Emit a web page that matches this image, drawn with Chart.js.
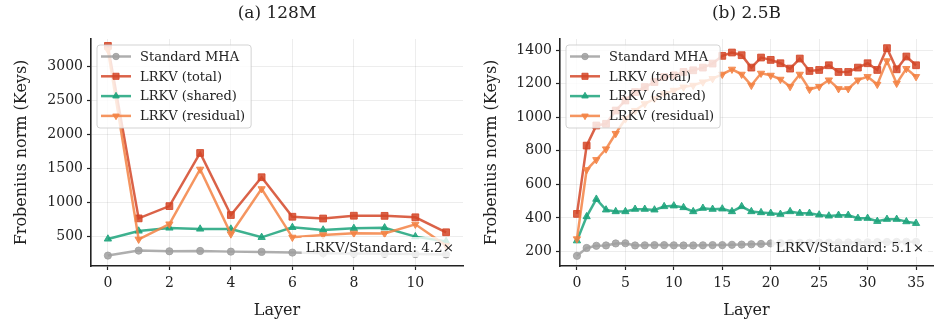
<!DOCTYPE html>
<html>
<head>
<meta charset="utf-8">
<script src="https://cdn.jsdelivr.net/npm/chart.js@4.4.1/dist/chart.umd.min.js"></script>
<style>
  html, body { margin: 0; padding: 0; background: #fff; }
  body { width: 947px; height: 332px; position: relative; overflow: hidden; }
  .panel { position: absolute; top: 0; height: 332px; }
</style>
</head>
<body>
<div class="panel" style="left:0;width:470px"><canvas id="c128"></canvas></div>
<div class="panel" style="left:475px;width:472px"><canvas id="c25"></canvas></div>
<script>
// (a) 128M
const layersA = [0, 1, 2, 3, 4, 5, 6, 7, 8, 9, 10, 11];
const stdA   = [222, 295, 285, 290, 280, 276, 266, 257, 252, 248, 244, 238];
const totA   = [3300, 768, 948, 1728, 817, 1372, 792, 766, 807, 805, 784, 564];
const shA    = [466, 583, 627, 612, 612, 490, 636, 598, 622, 630, 500, 430];
const resA   = [3240, 461, 685, 1489, 539, 1202, 490, 525, 550, 545, 681, 370];
const xTicksA = [0, 2, 4, 6, 8, 10];
const yTicksA = [500, 1000, 1500, 2000, 2500, 3000];

// (b) 2.5B
const layersB = [0, 1, 2, 3, 4, 5, 6, 7, 8, 9, 10, 11, 12, 13, 14, 15, 16, 17,
                 18, 19, 20, 21, 22, 23, 24, 25, 26, 27, 28, 29, 30, 31, 32, 33, 34, 35];
const stdB = [174, 221, 234, 236, 248, 249, 236, 237, 238, 238, 237, 236, 236, 237, 238, 238, 240, 241,
              243, 245, 248, 250, 251, 252, 252, 253, 253, 254, 254, 255, 255, 256, 257, 257, 258, 258];
const totB = [424, 831, 951, 961, 1040, 1100, 1150, 1180, 1210, 1240, 1250, 1270, 1280, 1296, 1320, 1366, 1386, 1370,
              1296, 1356, 1342, 1322, 1290, 1350, 1276, 1282, 1310, 1270, 1270, 1296, 1322, 1282, 1412, 1286, 1362, 1310];
const shB  = [264, 408, 512, 448, 438, 438, 452, 452, 448, 468, 472, 462, 438, 458, 452, 454, 438, 468,
              438, 432, 428, 422, 438, 428, 428, 418, 412, 416, 416, 398, 398, 380, 392, 392, 378, 368];
const resB = [275, 687, 747, 811, 903, 990, 1040, 1080, 1110, 1140, 1160, 1180, 1190, 1210, 1230, 1256, 1286, 1256,
              1190, 1262, 1250, 1226, 1183, 1256, 1166, 1183, 1222, 1170, 1170, 1222, 1242, 1196, 1336, 1202, 1290, 1242];
const xTicksB = [0, 5, 10, 15, 20, 25, 30, 35];
const yTicksB = [200, 400, 600, 800, 1000, 1200, 1400];

const seriesNames = ['Standard MHA', 'LRKV (total)', 'LRKV (shared)', 'LRKV (residual)'];

const ff = '"DejaVu Serif", serif';
const ink = '#222';
const gc = 'rgba(0, 0, 0, 0.07)';
const styles = [
  { color: 'rgba(160, 160, 160, 0.85)', pointStyle: 'circle', rotation: 0, r: 3.6 },
  { color: 'rgba(212, 70, 40, 0.85)', pointStyle: 'rect', rotation: 0, r: 4.8 },
  { color: 'rgba(28, 163, 123, 0.85)', pointStyle: 'triangle', rotation: 0, r: 4.2 },
  { color: 'rgba(243, 130, 68, 0.85)', pointStyle: 'triangle', rotation: 180, r: 4.2 }
];

function pts(xs, ys) { return xs.map((x, i) => ({ x: x, y: ys[i] })); }

// title above the plot, legend in the upper left, ratio note in the lower right
const panelPlugin = {
  id: 'panel',
  afterDatasetsDraw(chart, args, o) {
    const ctx = chart.ctx, a = chart.chartArea;
    ctx.save();
    ctx.fillStyle = ink;
    ctx.font = '17px ' + ff;
    ctx.textAlign = 'center';
    ctx.textBaseline = 'middle';
    ctx.fillText(o.title, (a.left + a.right) / 2, 14);

    // legend
    ctx.font = '13px ' + ff;
    let tw = 0;
    seriesNames.forEach(n => { tw = Math.max(tw, ctx.measureText(n).width); });
    const bx = a.left + 6, by = a.top + 6, bw = 43 + tw + 6, bh = 83;
    ctx.beginPath();
    ctx.roundRect(bx, by, bw, bh, 3);
    ctx.fillStyle = 'rgba(255, 255, 255, 0.8)';
    ctx.fill();
    ctx.strokeStyle = 'rgba(200, 200, 200, 0.8)';
    ctx.lineWidth = 1;
    ctx.stroke();
    seriesNames.forEach((n, i) => {
      const s = styles[i], y = by + 11.5 + i * 19.8;
      ctx.strokeStyle = s.color;
      ctx.lineWidth = 2.5;
      ctx.beginPath();
      ctx.moveTo(bx + 4, y);
      ctx.lineTo(bx + 34, y);
      ctx.stroke();
      ctx.fillStyle = s.color;
      ctx.lineWidth = 1;
      Chart.helpers.drawPoint(ctx, { pointStyle: s.pointStyle, rotation: s.rotation, radius: s.r * 0.9, borderWidth: 1 }, bx + 19, y);
      ctx.fillStyle = ink;
      ctx.textAlign = 'left';
      ctx.fillText(n, bx + 43, y + 1);
    });

    // ratio note
    ctx.font = '13.5px ' + ff;
    const nw = ctx.measureText(o.note).width;
    const nx = a.right - 9, ny = a.bottom - 19;
    ctx.fillStyle = 'rgba(255, 255, 255, 0.8)';
    ctx.fillRect(nx - nw - 4, ny - 10, nw + 8, 20);
    ctx.fillStyle = ink;
    ctx.textAlign = 'right';
    ctx.fillText(o.note, nx, ny + 1);
    ctx.restore();
  }
};

function makeChart(id, cfg) {
  const values = [cfg.std, cfg.tot, cfg.sh, cfg.res];
  new Chart(document.getElementById(id), {
    type: 'line',
    data: {
      datasets: values.map((v, i) => ({
        label: seriesNames[i],
        data: pts(cfg.layers, v),
        borderColor: styles[i].color,
        backgroundColor: styles[i].color,
        borderWidth: 2.5,
        pointStyle: styles[i].pointStyle,
        rotation: styles[i].rotation,
        pointRadius: styles[i].r,
        pointBorderWidth: 1,
        tension: 0,
        order: 4 - i
      }))
    },
    options: {
      responsive: true, maintainAspectRatio: false, animation: false,
      layout: { padding: { top: 39, right: cfg.padRight, left: 0, bottom: 0 } },
      plugins: {
        legend: { display: false }, tooltip: { enabled: false },
        panel: { title: cfg.title, note: cfg.note }
      },
      scales: {
        x: {
          type: 'linear', min: cfg.xmin, max: cfg.xmax,
          afterBuildTicks: s => { s.ticks = cfg.xTicks.map(v => ({ value: v })); },
          afterFit: s => { s.height = 66; },
          ticks: { font: { size: 14, family: ff }, color: ink, padding: 5, maxRotation: 0, callback: v => String(v) },
          grid: { color: gc, tickColor: ink, tickLength: 4, tickWidth: 1.2 },
          border: { color: ink, width: 1.6 },
          title: { display: true, text: 'Layer', font: { size: 16, family: ff }, color: ink, padding: { top: 0, bottom: 12 } }
        },
        y: {
          type: 'linear', min: cfg.ymin, max: cfg.ymax,
          afterBuildTicks: s => { s.ticks = cfg.yTicks.map(v => ({ value: v })); },
          afterFit: s => { s.width = cfg.yWidth; },
          ticks: { font: { size: 14, family: ff }, color: ink, padding: 4, callback: v => String(v) },
          grid: { color: gc, tickColor: ink, tickLength: 4, tickWidth: 1.2 },
          border: { color: ink, width: 1.6 },
          title: { display: true, text: 'Frobenius norm (Keys)', font: { size: 16, family: ff }, color: ink, padding: { top: cfg.yTitlePad, bottom: 0 } }
        }
      }
    },
    plugins: [panelPlugin]
  });
}

makeChart('c128', {
  layers: layersA, std: stdA, tot: totA, sh: shA, res: resA,
  xTicks: xTicksA, yTicks: yTicksA, xmin: -0.55, xmax: 11.55, ymin: 69, ymax: 3401,
  yWidth: 91, yTitlePad: 12, padRight: 7,
  title: '(a) 128M', note: 'LRKV/Standard: 4.2×'
});
makeChart('c25', {
  layers: layersB, std: stdB, tot: totB, sh: shB, res: resB,
  xTicks: xTicksB, yTicks: yTicksB, xmin: -1.75, xmax: 36.75, ymin: 113.5, ymax: 1466.5,
  yWidth: 85, yTitlePad: 7, padRight: 14,
  title: '(b) 2.5B', note: 'LRKV/Standard: 5.1×'
});
</script>
</body>
</html>
